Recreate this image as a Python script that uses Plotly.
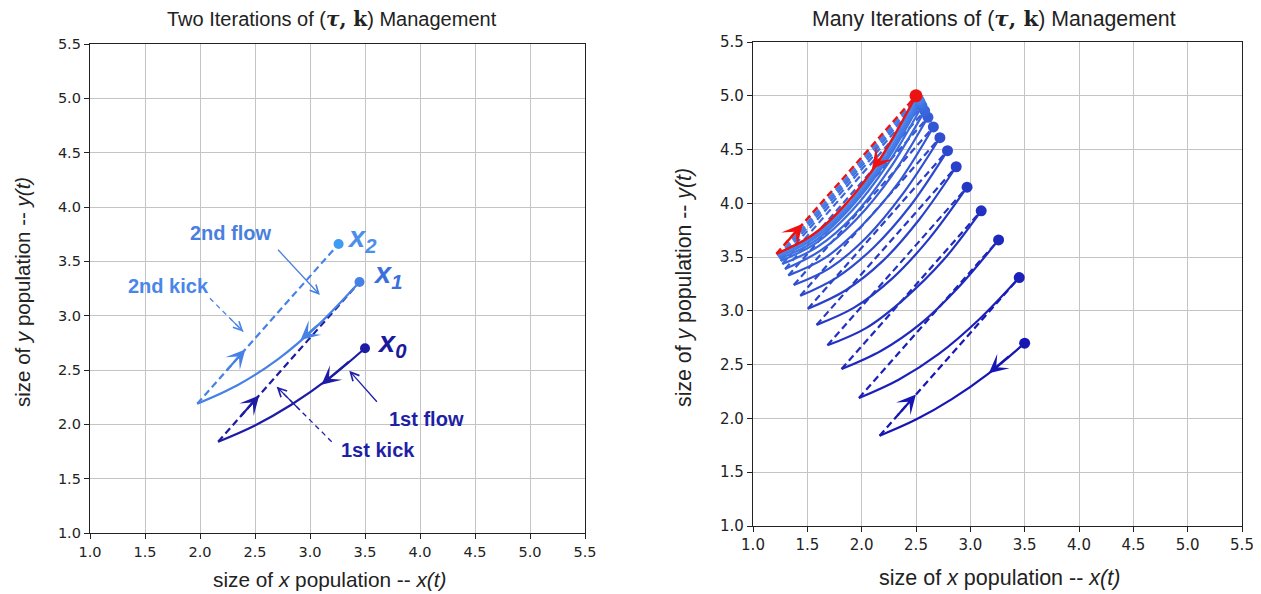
import plotly.graph_objects as go

# ---------------- data ----------------
# iterate points x_n (start of each flow), n = 0..15
dot_x = [3.50, 3.45, 3.26, 3.10, 2.97, 2.87, 2.79, 2.72, 2.66, 2.61, 2.58, 2.555, 2.54, 2.53, 2.52, 2.51]
dot_y = [2.70, 3.31, 3.66, 3.93, 4.15, 4.34, 4.49, 4.61, 4.71, 4.80, 4.86, 4.905, 4.935, 4.955, 4.97, 4.985]
# end of each flow (lower-left tip)
end_x = [2.165, 1.975, 1.815, 1.685, 1.585, 1.505, 1.435, 1.375, 1.325, 1.295, 1.27, 1.255, 1.245, 1.235, 1.228, 1.222]
end_y = [1.84, 2.19, 2.46, 2.68, 2.87, 3.02, 3.14, 3.24, 3.33, 3.39, 3.435, 3.465, 3.485, 3.50, 3.51, 3.52]
# three interior points of every flow curve
flow_mid_x = [[3.17, 2.83, 2.50], [3.08, 2.71, 2.34], [2.90, 2.54, 2.18], [2.75, 2.39, 2.04],
              [2.62, 2.28, 1.93], [2.53, 2.19, 1.85], [2.45, 2.11, 1.77], [2.38, 2.05, 1.71],
              [2.33, 1.99, 1.66], [2.28, 1.95, 1.62], [2.25, 1.93, 1.60], [2.23, 1.91, 1.58],
              [2.22, 1.89, 1.57], [2.21, 1.88, 1.56], [2.20, 1.87, 1.55], [2.19, 1.87, 1.54]]
flow_mid_y = [[2.42, 2.18, 1.99], [2.92, 2.60, 2.36], [3.23, 2.88, 2.63], [3.47, 3.11, 2.84],
              [3.67, 3.30, 3.03], [3.85, 3.46, 3.19], [3.98, 3.59, 3.31], [4.09, 3.69, 3.40],
              [4.18, 3.78, 3.49], [4.26, 3.85, 3.56], [4.31, 3.89, 3.60], [4.35, 3.93, 3.63],
              [4.38, 3.95, 3.65], [4.39, 3.96, 3.67], [4.40, 3.97, 3.68], [4.42, 3.98, 3.69]]
# limit cycle (red)
limit_x = [2.50, 2.18, 1.86, 1.54, 1.215]
limit_y = [5.00, 4.43, 4.00, 3.70, 3.53]

tick_vals = [1.0, 1.5, 2.0, 2.5, 3.0, 3.5, 4.0, 4.5, 5.0, 5.5]
tick_text = ["1.0", "1.5", "2.0", "2.5", "3.0", "3.5", "4.0", "4.5", "5.0", "5.5"]

titles = ["Two Iterations of (<span style='font-family:DejaVu Serif'><b><i>τ</i>, k</b></span>) Management",
          "Many Iterations of (<span style='font-family:DejaVu Serif'><b><i>τ</i>, k</b></span>) Management"]
x_title = "size of <i>x</i> population -- <i>x(t)</i>"
y_title = "size of <i>y</i> population -- <i>y(t)</i>"

# left-panel labels
label_text = ["2nd flow", "2nd kick", "1st flow", "1st kick"]
label_x = [2.285, 1.712, 4.06, 3.615]
label_y = [3.763, 3.273, 2.046, 1.764]
label_tail_x = [2.697, 2.09, 3.62, 3.197]
label_tail_y = [3.62, 3.16, 2.194, 1.84]
label_head_x = [3.09, 2.394, 3.357, 2.697]
label_head_y = [3.19, 2.853, 2.494, 2.346]
label_dashed = [False, True, False, True]
point_names = ["0", "1", "2"]
pt_x = [3.59, 3.555, 3.32]
pt_y = [2.735, 3.37, 3.71]

# ---------------- styles / layout ----------------
L_COL = ["#1c1ca4", "#4682e6", "#3e9cf2"]
L_TXT = ["#4a7fdf", "#4a86e8", "#1f1fa6", "#1f1fa6"]
PT_COL = ["#1a1a9c", "#3b6fdc", "#4d8fe8"]
RED = "#ee1111"
DASH = "7px,4px"
N = len(dot_x)

OFF = 8                     # page body margin
FW, FH = 1261 - OFF, 594 - OFF


def px_x(p):
    return (p - OFF) / FW


def px_y(p):
    return 1 - (p - OFF) / FH


def rcol(n):
    t = (n / (N - 1)) ** 0.9
    a, b = (22, 22, 180), (72, 135, 236)
    return "rgb(%d,%d,%d)" % tuple(round(a[i] + (b[i] - a[i]) * t) for i in range(3))


def flow(n):
    return [dot_x[n]] + flow_mid_x[n] + [end_x[n]], [dot_y[n]] + flow_mid_y[n] + [end_y[n]]


fig = go.Figure()
ann = []
shapes = []


def line(xs, ys, color, ax, dash=None, width=2.2):
    fig.add_trace(go.Scatter(x=xs, y=ys, mode="lines", xaxis=ax[0], yaxis=ax[1],
                             line=dict(color=color, width=width, dash=dash, shape="spline" if len(xs) > 2 else "linear"),
                             hoverinfo="skip", showlegend=False))


def dot(x, y, color, ax, size=10):
    fig.add_trace(go.Scatter(x=[x], y=[y], mode="markers", xaxis=ax[0], yaxis=ax[1],
                             marker=dict(color=color, size=size, line=dict(width=0)),
                             hoverinfo="skip", showlegend=False))


def head(x0, y0, x1, y1, color, ax, frac_tail, frac_head, hstyle=3, width=2.2, size=1.45):
    hx = x0 + (x1 - x0) * frac_head
    hy = y0 + (y1 - y0) * frac_head
    tx = x0 + (x1 - x0) * frac_tail
    ty = y0 + (y1 - y0) * frac_tail
    ann.append(dict(x=hx, y=hy, ax=tx, ay=ty, xref=ax[0], yref=ax[1], axref=ax[0], ayref=ax[1],
                    text="", showarrow=True, arrowhead=hstyle, arrowsize=size, arrowwidth=width,
                    arrowcolor=color))


LA = ("x", "y")
RA = ("x2", "y2")

# ---------------- left panel ----------------
for n in range(2):
    fx, fy = flow(n)
    line(fx, fy, L_COL[n], LA)
    line([end_x[n], dot_x[n + 1]], [end_y[n], dot_y[n + 1]], L_COL[n], LA, dash=DASH)
head(dot_x[0], dot_y[0], flow_mid_x[0][0], flow_mid_y[0][0], L_COL[0], LA, 0.4, 1.2)
head(end_x[0], end_y[0], dot_x[1], dot_y[1], L_COL[0], LA, 0.15, 0.29)
head(flow_mid_x[1][0], flow_mid_y[1][0], flow_mid_x[1][1], flow_mid_y[1][1], L_COL[1], LA, 0.0, 0.45)
head(end_x[1], end_y[1], dot_x[2], dot_y[2], L_COL[1], LA, 0.2, 0.34)
for n in range(3):
    dot(dot_x[n], dot_y[n], L_COL[n], LA, 10)

for i in range(4):
    c = L_TXT[i]
    ann.append(dict(x=label_x[i], y=label_y[i], xref="x", yref="y", text="<b>%s</b>" % label_text[i],
                    xanchor="center", yanchor="middle", showarrow=False,
                    font=dict(family="Liberation Sans", size=20, color=c)))
    if label_dashed[i]:
        shapes.append(dict(type="line", xref="x", yref="y", x0=label_tail_x[i], y0=label_tail_y[i],
                           x1=label_head_x[i], y1=label_head_y[i],
                           line=dict(color=c, width=1.3, dash="5px,4px")))
        head(label_tail_x[i], label_tail_y[i], label_head_x[i], label_head_y[i], c, LA, 0.55, 1.0,
             hstyle=5, width=1.3, size=1.3)
    else:
        head(label_tail_x[i], label_tail_y[i], label_head_x[i], label_head_y[i], c, LA, 0.0, 1.0,
             hstyle=5, width=1.3, size=1.3)

for n in range(3):
    ann.append(dict(x=pt_x[n], y=pt_y[n], xref="x", yref="y", xanchor="left", yanchor="middle",
                    text="<b><i>x</i></b><sub><b><i>%s</i></b></sub>" % point_names[n], showarrow=False,
                    font=dict(family="Liberation Sans", size=29, color=PT_COL[n])))

# ---------------- right panel ----------------
for n in range(N):
    fx, fy = flow(n)
    line(fx, fy, rcol(n), RA, width=2.2)
    if n + 1 < N:
        line([end_x[n], dot_x[n + 1]], [end_y[n], dot_y[n + 1]], rcol(n), RA, dash=DASH, width=2.2)
head(dot_x[0], dot_y[0], flow_mid_x[0][0], flow_mid_y[0][0], rcol(0), RA, 0.4, 1.0)
head(end_x[0], end_y[0], dot_x[1], dot_y[1], rcol(0), RA, 0.12, 0.26)
for n in range(N):
    dot(dot_x[n], dot_y[n], rcol(n), RA, 11)
line(limit_x, limit_y, RED, RA, width=2.4)
line([limit_x[-1], limit_x[0]], [limit_y[-1], limit_y[0]], RED, RA, dash=DASH, width=2.4)
head(limit_x[1], limit_y[1], limit_x[2], limit_y[2], RED, RA, 0.0, 0.27, width=2.4)
head(limit_x[-1], limit_y[-1], limit_x[0], limit_y[0], RED, RA, 0.05, 0.19, width=2.4)
dot(limit_x[0], limit_y[0], RED, RA, 13)

# ---------------- titles ----------------
TF = dict(family="Liberation Sans", color="#222")


def ptext(x, y, text, size, angle=0):
    ann.append(dict(x=px_x(x), y=px_y(y), xref="paper", yref="paper", xanchor="center", yanchor="middle",
                    text=text, showarrow=False, textangle=angle, font=dict(size=size, **TF)))


ptext(332, 19, titles[0], 20)
ptext(994, 18, titles[1], 21.3)
ptext(330, 579, x_title, 20.8)
ptext(999, 578, x_title, 21.5)
ptext(22, 292, y_title, 20.5, -90)
ptext(684, 288, y_title, 21.3, -90)


def axis(domain, anchor, fs):
    return dict(domain=domain, anchor=anchor, range=[1, 5.5], tickvals=tick_vals, ticktext=tick_text,
                showgrid=True, gridcolor="#c4c4c4", gridwidth=1, showline=True, linecolor="#222",
                linewidth=1.3, mirror=True, ticks="outside", ticklen=5, tickwidth=1.2, tickcolor="#222",
                tickfont=dict(family="DejaVu Sans", size=fs, color="#222"), zeroline=False, fixedrange=True,
                automargin=False)


fig.update_layout(
    width=FW, height=FH, margin=dict(l=0, r=0, t=0, b=0, pad=0, autoexpand=False),
    paper_bgcolor="white", plot_bgcolor="white", showlegend=False,
    xaxis=axis([px_x(90), px_x(585)], "y", 14.5),
    yaxis=axis([px_y(533), px_y(44)], "x", 14.5),
    xaxis2=axis([px_x(753), px_x(1242)], "y2", 15),
    yaxis2=axis([px_y(526), px_y(42)], "x2", 15),
    annotations=ann, shapes=shapes,
)

fig.write_html("out.html")
